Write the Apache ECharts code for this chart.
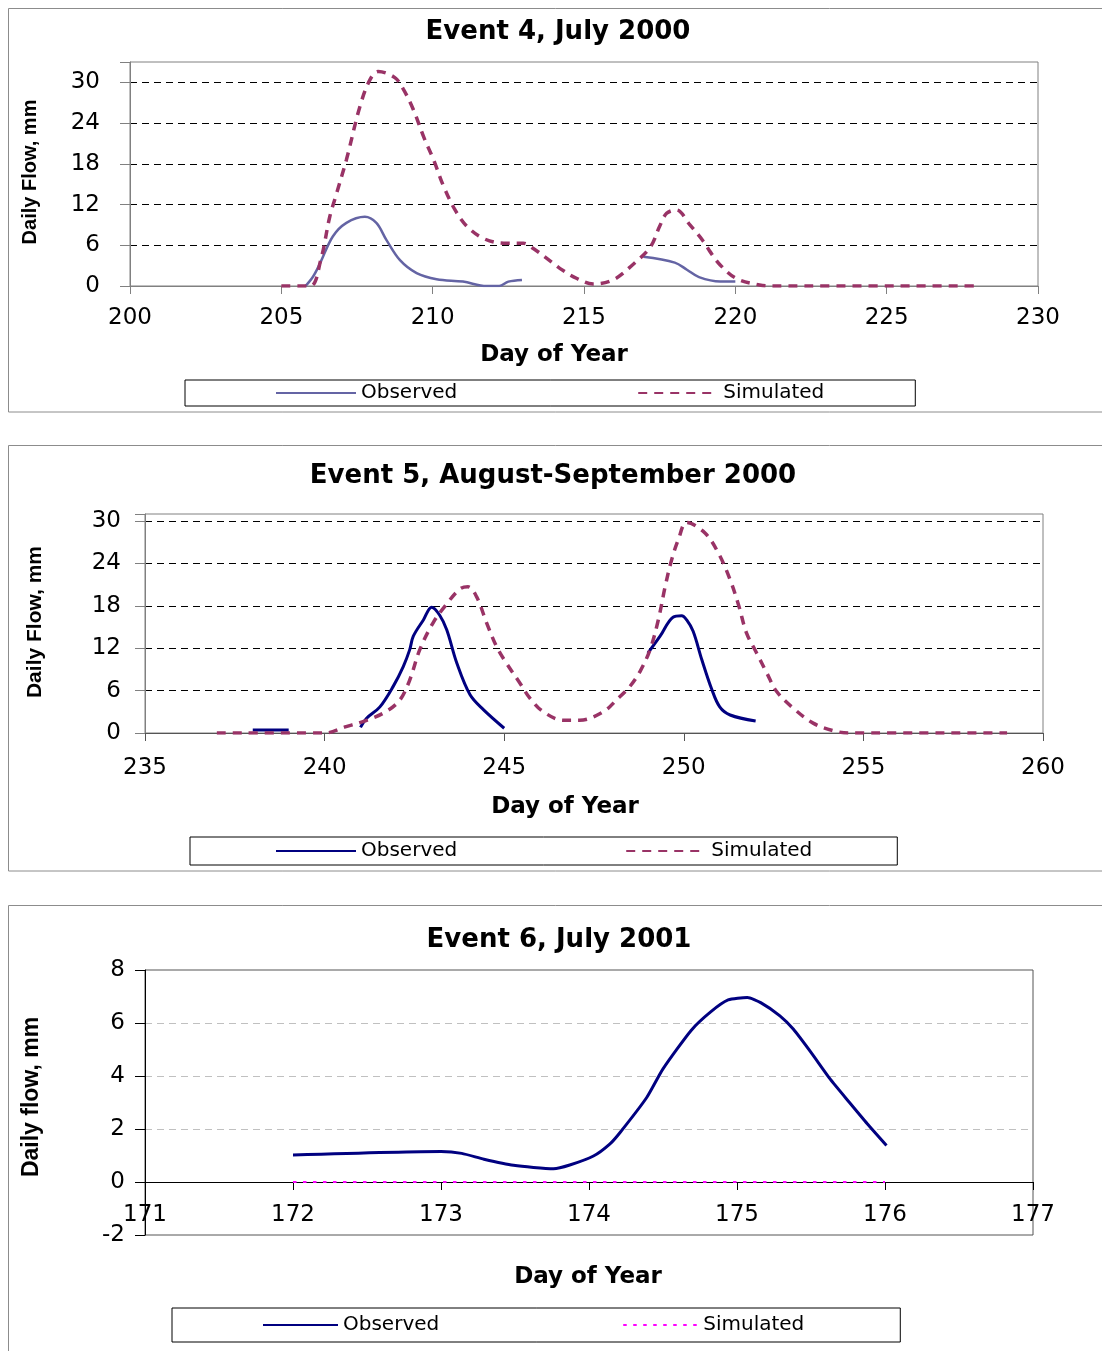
<!DOCTYPE html>
<html><head><meta charset="utf-8">
<script src="https://cdn.jsdelivr.net/npm/echarts@6/dist/echarts.min.js"></script>
<style>html,body{margin:0;padding:0;background:#fff}#c{width:1102px;height:1351px}</style>
</head><body><div id="c"></div>
<script>
// ---- Event 4, July 2000 ----
const e4ObsDay  = [205.8, 206.05, 206.28, 206.7, 207.15, 207.76, 208.14, 208.47, 208.92, 209.47, 210.13, 211.0, 211.78, 212.2, 212.5, 212.95, 215, 216.96, 218.0, 218.4, 218.8, 219.5, 220.0];
const e4ObsFlow = [0, 1.4, 3.35, 7.3, 9.3, 10.2, 9.3, 6.8, 3.8, 1.9, 1.0, 0.65, 0, 0, 0.65, 0.9, null, 4.3, 3.45, 2.4, 1.3, 0.65, 0.65];
const e4SimDay  = [205.0, 205.95, 206.3, 206.6, 206.83, 207.15, 207.6, 207.93, 208.2, 208.75, 209.03, 209.36, 209.7, 210.03, 210.36, 210.74, 211.13, 211.68, 212.35, 213.0, 213.3, 213.97, 214.2, 214.75, 215.3, 215.96, 216.6, 217.2, 217.5, 217.73, 218.05, 218.5, 218.94, 219.16, 219.5, 220.04, 220.8, 221.25, 228.0];
const e4SimFlow = [0, 0, 3.8, 10.2, 13.7, 18.6, 26.5, 30.4, 31.6, 30.7, 29, 26, 22, 18.6, 14.7, 11.2, 8.8, 7.0, 6.3, 6.3, 5.6, 3.4, 2.6, 1.14, 0.3, 0.9, 3.1, 5.8, 8.8, 10.7, 11.2, 9.0, 6.6, 5.1, 3.1, 1.1, 0.15, 0, 0];
const e4XTicks = {min: 200, max: 230, step: 5};
const e4YTicks = {min: 0, max: 30, step: 6};

// ---- Event 5, August-September 2000 ----
const e5ObsDay  = [238, 239, 240, 241, 241.17, 241.54, 241.91, 242.19, 242.37, 242.47, 242.75, 242.98, 243.2, 243.4, 243.68, 244.05, 244.42, 245.0, 247, 249.0, 249.34, 249.7, 249.94, 250.08, 250.26, 250.5, 250.77, 251.0, 251.29, 252.0];
const e5ObsFlow = [0.43, 0.43, null, 0.8, 2.1, 3.7, 6.6, 9.4, 11.8, 13.7, 16.0, 17.8, 16.7, 14.6, 9.9, 5.4, 3.3, 0.67, null, 11.3, 13.7, 16.4, 16.6, 16.0, 14.4, 10.4, 6.3, 3.7, 2.55, 1.7];
const e5SimDay  = [237, 240, 240.6, 241.17, 241.7, 242.1, 242.37, 242.65, 243.02, 243.39, 243.77, 243.99, 244.23, 244.51, 244.79, 245.06, 245.44, 245.72, 246.09, 246.65, 247.1, 247.76, 248.13, 248.5, 248.78, 249.06, 249.29, 249.48, 249.66, 249.85, 250.08, 250.59, 250.96, 251.29, 251.52, 251.75, 252.03, 252.31, 252.58, 253.05, 253.6, 254.16, 254.6, 259];
const e5SimFlow = [0, 0, 0.9, 1.8, 3.0, 4.7, 7.5, 11.8, 15.6, 18.2, 20.4, 20.7, 19.3, 15.6, 12.2, 9.9, 7.05, 4.9, 3.0, 1.8, 1.8, 3.0, 4.7, 6.6, 8.7, 11.8, 16.0, 20.7, 24.5, 27.4, 29.8, 28.3, 25.5, 21.7, 18.2, 14.1, 11.3, 8.5, 5.9, 3.5, 1.4, 0.33, 0, 0];
const e5XTicks = {min: 235, max: 260, step: 5};
const e5YTicks = {min: 0, max: 30, step: 6};

// ---- Event 6, July 2001 ----
const e6ObsDay  = [172.0, 173.0, 173.14, 173.29, 173.49, 173.76, 173.87, 174.03, 174.14, 174.21, 174.39, 174.5, 174.69, 174.82, 174.94, 175.07, 175.16, 175.29, 175.38, 175.5, 175.63, 175.76, 175.88, 176.01];
const e6ObsFlow = [1.02, 1.15, 1.08, 0.86, 0.63, 0.5, 0.64, 0.98, 1.43, 1.87, 3.19, 4.27, 5.72, 6.41, 6.87, 6.96, 6.77, 6.27, 5.77, 4.89, 3.88, 3.0, 2.2, 1.38];
const e6SimDay  = [172, 176];
const e6SimFlow = [0, 0];
const e6XTicks = {min: 171, max: 177, step: 1};
const e6YTicks = {min: -2, max: 8, step: 2};

const seriesNames = ['Observed', 'Simulated'];

function pairs(xs, ys) { return xs.map((x, i) => [x, ys[i] === null ? '-' : ys[i]]); }

const NUM_FONT = 'DejaVu Sans';
const MAROON = '#993366';

function xAxis(g, t, color, margin) {
  return {
    type: 'value', gridIndex: g, min: t.min, max: t.max, interval: t.step,
    axisLine: {show: true, onZero: true, lineStyle: {color: color, width: 1}},
    axisTick: {show: true, length: 8, lineStyle: {color: color}},
    axisLabel: {margin: margin, fontSize: 23, fontFamily: NUM_FONT, color: '#000'},
    splitLine: {show: false}
  };
}
function yAxis(g, t, top, color, margin, gridColor) {
  return {
    type: 'value', gridIndex: g, min: t.min, max: top, interval: t.step,
    axisLine: {show: true, onZero: false, lineStyle: {color: color, width: 1}},
    axisTick: {show: true, length: 10, lineStyle: {color: color}},
    axisLabel: {margin: margin, fontSize: 23, fontFamily: NUM_FONT, color: '#000',
      formatter: v => ((v - t.min) % t.step === 0 && v <= t.max) ? String(v) : ''},
    splitLine: {show: true, showMinLine: false, showMaxLine: false,
      lineStyle: {color: gridColor, type: [7, 5], width: 1}}
  };
}
function line(name, g, data, color, width, type, smooth) {
  return {
    type: 'line', name: name, xAxisIndex: g, yAxisIndex: g, data: data,
    symbol: 'none', showSymbol: false, smooth: smooth, connectNulls: false,
    lineStyle: {color: color, width: width, type: type}, itemStyle: {color: color},
    emphasis: {disabled: true}, silent: true, animation: false
  };
}
function legend(g, left, top, padV, padL, padR, gap, lw) {
  return {
    data: [seriesNames[0] + '#' + g, seriesNames[1] + '#' + g],
    left: left, top: top, orient: 'horizontal', padding: [padV, padR, padV, padL],
    itemGap: gap, itemWidth: lw, itemHeight: 14, borderColor: '#000', borderWidth: 1,
    backgroundColor: '#fff', selectedMode: false,
    itemStyle: {opacity: 0, borderWidth: 0},
    formatter: n => n.split('#')[0],
    textStyle: {fontFamily: NUM_FONT, fontSize: 20, color: '#000'}
  };
}
function txt(x, y, s, font, rot) {
  return {type: 'text', x: x, y: y, rotation: rot || 0, silent: true,
    style: {text: s, font: font, fill: '#000', align: 'center', verticalAlign: 'middle'}};
}
function frame(x, y, w, h) {
  return {type: 'rect', silent: true, z: -10, shape: {x: x, y: y, width: w, height: h},
    style: {fill: 'none', stroke: '#8c8c8c', lineWidth: 1}};
}

const TITLE_FONT = 'bold 26px "DejaVu Sans"';
const XNAME_FONT = 'bold 23px "DejaVu Sans"';

const option = {
  animation: false,
  backgroundColor: '#fff',
  grid: [
    {left: 130, top: 62, width: 908, height: 224, show: true, borderColor: '#808080', borderWidth: 1, backgroundColor: 'transparent', containLabel: false},
    {left: 145, top: 514, width: 898, height: 219, show: true, borderColor: '#808080', borderWidth: 1, backgroundColor: 'transparent', containLabel: false},
    {left: 145, top: 970, width: 888, height: 265, show: true, borderColor: '#555', borderWidth: 1, backgroundColor: 'transparent', containLabel: false}
  ],
  xAxis: [
    xAxis(0, e4XTicks, '#808080', 21),
    xAxis(1, e5XTicks, '#555', 24),
    xAxis(2, e6XTicks, '#000', -31)
  ],
  yAxis: [
    yAxis(0, e4YTicks, 33, '#808080', 30, '#000'),
    yAxis(1, e5YTicks, 31, '#808080', 24, '#000'),
    yAxis(2, e6YTicks, 8, '#000', 20, '#c0c0c0')
  ],
  legend: [
    legend(4, 185, 380, 3, 90, 91, 180, 80),
    legend(5, 190, 837, 4, 85, 85, 168, 80),
    legend(6, 172, 1308, 7, 90, 96, 183, 75)
  ],
  series: [
    line('Observed#4', 0, pairs(e4ObsDay, e4ObsFlow), '#6464a4', 2.5, 'solid', 0.35),
    line('Simulated#4', 0, pairs(e4SimDay, e4SimFlow), MAROON, 3.5, [9, 7], 0.35),
    line('Observed#5', 1, pairs(e5ObsDay, e5ObsFlow), '#000080', 3, 'solid', 0.35),
    line('Simulated#5', 1, pairs(e5SimDay, e5SimFlow), MAROON, 3.5, [9, 7], 0.35),
    line('Observed#6', 2, pairs(e6ObsDay, e6ObsFlow), '#000080', 3, 'solid', 0.2),
    line('Simulated#6', 2, pairs(e6SimDay, e6SimFlow), '#ff00ff', 2, [3.5, 6.5], 0)
  ],
  graphic: [
    frame(8.5, 8.5, 1100, 403.5),
    frame(8.5, 445.5, 1100, 425.5),
    frame(8.5, 905.5, 1100, 460),
    txt(558, 32, 'Event 4, July 2000', TITLE_FONT),
    txt(553, 476, 'Event 5, August-September 2000', TITLE_FONT),
    txt(559, 940, 'Event 6, July 2001', TITLE_FONT),
    txt(554, 355, 'Day of Year', XNAME_FONT),
    txt(565, 807, 'Day of Year', XNAME_FONT),
    txt(588, 1277, 'Day of Year', XNAME_FONT),
    txt(30, 172, 'Daily Flow, mm', 'bold 20px "Liberation Sans"', Math.PI / 2),
    txt(35, 622, 'Daily Flow, mm', 'bold 21px "Liberation Sans"', Math.PI / 2),
    txt(32, 1097, 'Daily flow, mm', 'bold 23px "Liberation Sans"', Math.PI / 2)
  ]
};

const chart = echarts.init(document.getElementById('c'), null, {renderer: 'canvas'});
chart.setOption(option);
</script>
</body></html>
